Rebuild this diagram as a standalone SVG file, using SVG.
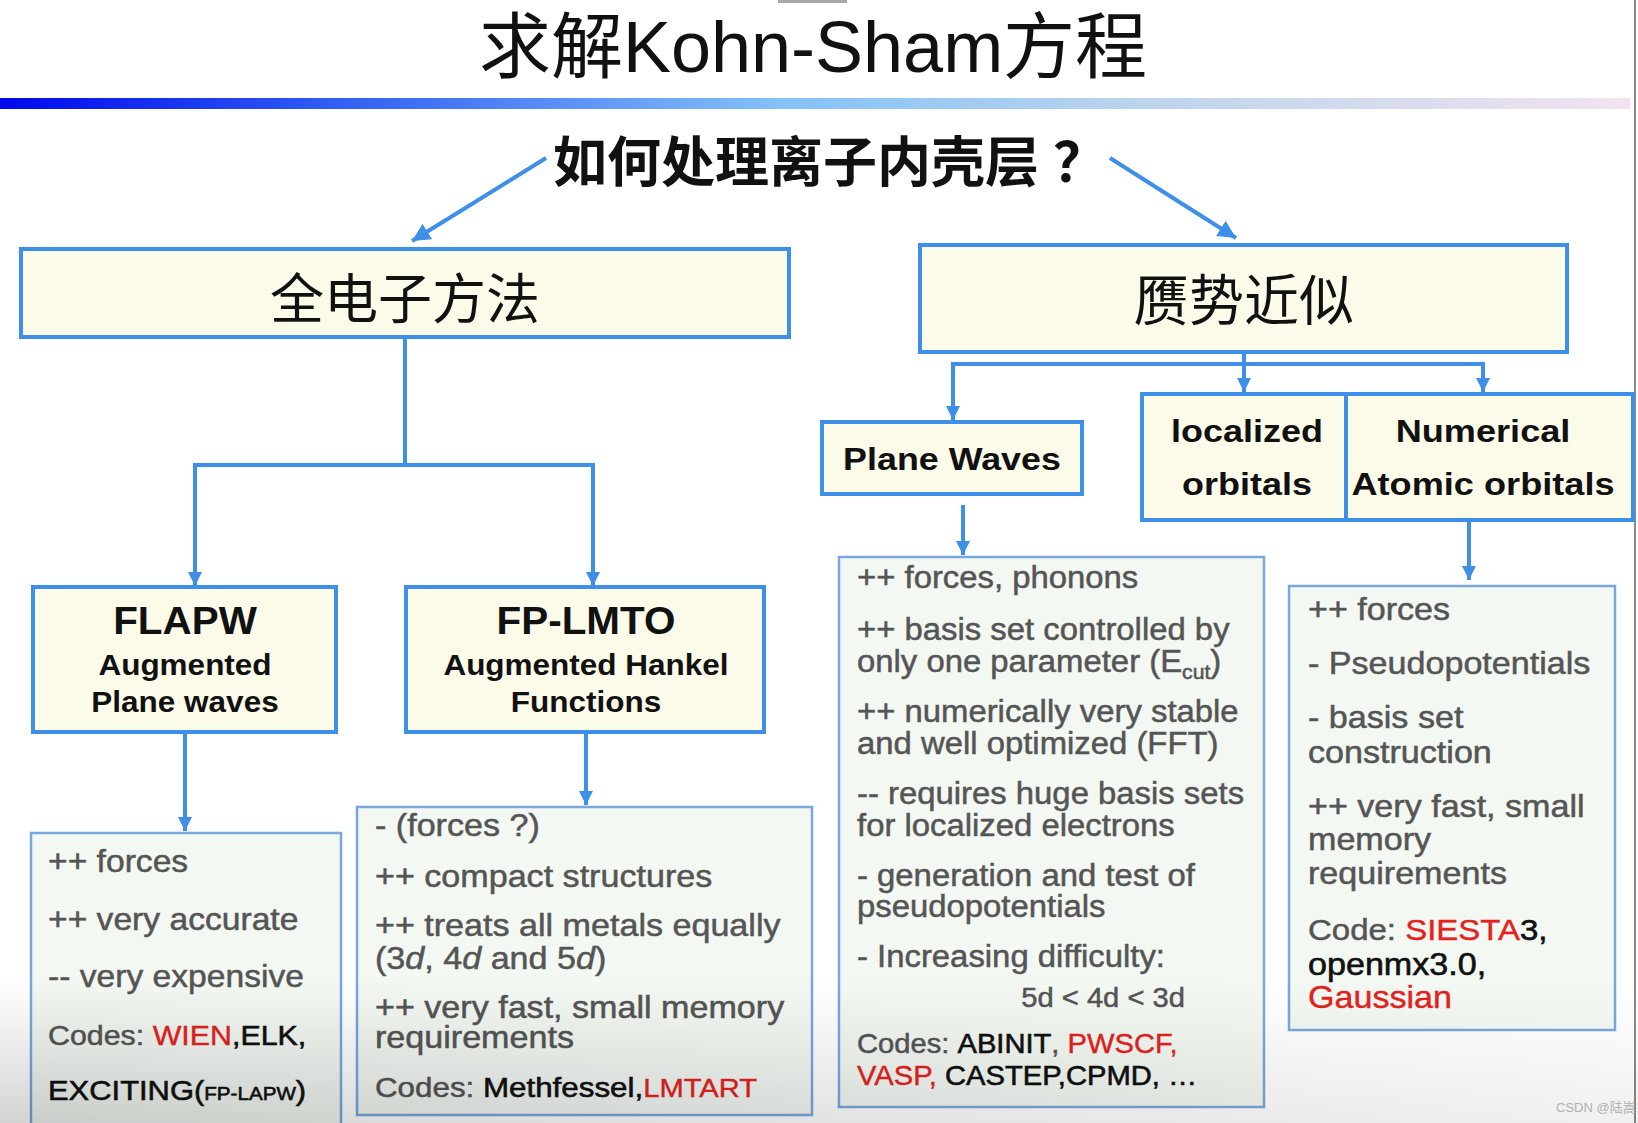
<svg xmlns="http://www.w3.org/2000/svg" width="1638" height="1123" viewBox="0 0 1638 1123">
<defs>
<linearGradient id="bar" x1="0" y1="0" x2="1" y2="0">
<stop offset="0" stop-color="#0008ee"/>
<stop offset="0.2" stop-color="#2f5cf2"/>
<stop offset="0.48" stop-color="#84c2f8"/>
<stop offset="0.7" stop-color="#bcd4ec"/>
<stop offset="0.86" stop-color="#d8dcee"/>
<stop offset="1" stop-color="#f4e2f2"/>
</linearGradient>
<linearGradient id="shade" x1="0" y1="0" x2="0" y2="1">
<stop offset="0" stop-color="#000" stop-opacity="0"/>
<stop offset="1" stop-color="#000" stop-opacity="0.17"/>
</linearGradient>
<linearGradient id="fade" x1="0" y1="0" x2="1" y2="0">
<stop offset="0" stop-color="#fff"/>
<stop offset="1" stop-color="#555"/>
</linearGradient>
<mask id="shadeMask" maskUnits="userSpaceOnUse" x="0" y="980" width="1638" height="143">
<rect x="0" y="980" width="1638" height="143" fill="url(#fade)"/>
</mask>
<marker id="ah" markerUnits="userSpaceOnUse" markerWidth="14" markerHeight="14" refX="14" refY="7" orient="auto">
<path d="M0,0 L14,7 L0,14 z" fill="#3d8fe8"/>
</marker>
<marker id="ahb" markerUnits="userSpaceOnUse" markerWidth="18" markerHeight="18" refX="18" refY="9" orient="auto">
<path d="M0,0 L18,9 L0,18 z" fill="#3d8fe8"/>
</marker>
<style>
.node{fill:#fcfbe9;stroke:#3d8fe8;stroke-width:4}
.det{fill:#f3f8f3;stroke:#7aa8dc;stroke-width:2.5}
.conn{fill:none;stroke:#3d8fe8;stroke-width:4}
.lbl{font-family:'Liberation Sans',Arial,sans-serif;fill:#111;font-weight:bold}
.cjk{font-family:'Noto Sans CJK SC',sans-serif;fill:#111}
.tx{font-family:'Liberation Sans',Arial,sans-serif;fill:#555;stroke:#555;stroke-width:0.5;font-size:31px}
.blk{fill:#111;stroke:#111;stroke-width:0.6}
.red{fill:#e3231e;stroke:#e3231e;stroke-width:0.4}
</style>
</defs>

<rect x="0" y="0" width="1638" height="1123" fill="#ffffff"/>
<rect x="778" y="0" width="69" height="3" fill="#a8a8a8"/>
<line x1="1635" y1="0" x2="1635" y2="1123" stroke="#8a8a8a" stroke-width="2"/>

<g id="title">
<text x="813" y="72" font-size="72" text-anchor="middle" font-family="'Liberation Sans','Noto Sans CJK SC',sans-serif" fill="#111">求解Kohn-Sham方程</text>
<rect x="0" y="98" width="1630" height="11" fill="url(#bar)"/>
</g>

<g id="question">
<text class="cjk" x="830" y="182" font-size="54" font-weight="bold" text-anchor="middle">如何处理离子内壳层<tspan dx="14">？</tspan></text>
</g>

<g id="all-electron">
<rect class="node" x="21" y="249" width="768" height="88"/>
<text class="cjk" x="405" y="319" font-size="54" text-anchor="middle">全电子方法</text>
</g>

<g id="pseudopotential">
<rect class="node" x="920" y="245" width="647" height="107"/>
<text class="cjk" x="1244" y="320" font-size="55" text-anchor="middle">赝势近似</text>
</g>

<g id="flapw">
<rect class="node" x="33" y="587" width="303" height="145"/>
<g transform="translate(185 0) scale(1.05 1)">
<text class="lbl" x="0" y="634" font-size="38.5" text-anchor="middle">FLAPW</text>
<text class="lbl" x="0" y="675" font-size="30" text-anchor="middle">Augmented</text>
<text class="lbl" x="0" y="712" font-size="30" text-anchor="middle">Plane waves</text>
</g>
</g>

<g id="fplmto">
<rect class="node" x="406" y="587" width="358" height="145"/>
<g transform="translate(586 0) scale(1.05 1)">
<text class="lbl" x="0" y="634" font-size="38.5" text-anchor="middle">FP-LMTO</text>
<text class="lbl" x="0" y="675" font-size="30" text-anchor="middle">Augmented Hankel</text>
<text class="lbl" x="0" y="712" font-size="30" text-anchor="middle">Functions</text>
</g>
</g>

<g id="planewaves">
<rect class="node" x="822" y="422" width="260" height="72"/>
<g transform="translate(952 0) scale(1.12 1)">
<text class="lbl" x="0" y="470" font-size="32" text-anchor="middle">Plane Waves</text>
</g>
</g>

<g id="localized">
<rect class="node" x="1142" y="394" width="204" height="126"/>
<g transform="translate(1247 0) scale(1.125 1)">
<text class="lbl" x="0" y="442" font-size="32" text-anchor="middle">localized</text>
<text class="lbl" x="0" y="495" font-size="32" text-anchor="middle">orbitals</text>
</g>
</g>

<g id="nao">
<rect class="node" x="1346" y="394" width="287" height="126"/>
<g transform="translate(1483 0) scale(1.13 1)">
<text class="lbl" x="0" y="442" font-size="32" text-anchor="middle">Numerical</text>
<text class="lbl" x="0" y="495" font-size="32" text-anchor="middle">Atomic orbitals</text>
</g>
</g>

<g id="flapw-detail">
<rect class="det" x="31" y="833" width="310" height="292"/>
<g class="tx" transform="translate(48 0) scale(1.085 1)">
<text x="0" y="872">++ forces</text>
<text x="0" y="930">++ very accurate</text>
<text x="0" y="987">-- very expensive</text>
<text x="0" y="1045" font-size="28">Codes: <tspan class="red">WIEN</tspan><tspan class="blk">,ELK,</tspan></text>
<text x="0" y="1100" font-size="28.5" class="blk">EXCITING(<tspan font-size="19">FP-LAPW</tspan>)</text>
</g>
</g>

<g id="fplmto-detail">
<rect class="det" x="357" y="807" width="455" height="308"/>
<g class="tx" transform="translate(375 0) scale(1.1 1)" font-size="30.3">
<text x="0" y="836">- (forces ?)</text>
<text x="0" y="887">++ compact structures</text>
<text x="0" y="936">++ treats all metals equally</text>
<text x="0" y="969">(3<tspan font-style="italic">d</tspan>, 4<tspan font-style="italic">d</tspan> and 5<tspan font-style="italic">d</tspan>)</text>
<text x="0" y="1018">++ very fast, small memory</text>
<text x="0" y="1048">requirements</text>
<text x="0" y="1097" font-size="28.5">Codes: <tspan class="blk">Methfessel,</tspan><tspan class="red" font-size="26.5">LMTART</tspan></text>
</g>
</g>

<g id="planewaves-detail">
<rect class="det" x="839" y="557" width="425" height="550"/>
<g class="tx" transform="translate(857 0) scale(1.06 1)" font-size="29">
<text x="0" y="588">++ forces, phonons</text>
<text x="0" y="640">++ basis set controlled by</text>
<text x="0" y="672">only one parameter (E<tspan font-size="20" dy="7">cut</tspan><tspan dy="-7">)</tspan></text>
<text x="0" y="722">++ numerically very stable</text>
<text x="0" y="754">and well optimized (FFT)</text>
<text x="0" y="804">-- requires huge basis sets</text>
<text x="0" y="836">for localized electrons</text>
<text x="0" y="886">- generation and test of</text>
<text x="0" y="917">pseudopotentials</text>
<text x="0" y="967">- Increasing difficulty:</text>
<text x="155" y="1007" font-size="27.5">5d &lt; 4d &lt; 3d</text>
<text x="0" y="1053" font-size="27.5">Codes: <tspan class="blk">ABINIT</tspan>, <tspan class="red">PWSCF,</tspan></text>
<text x="0" y="1085" font-size="27.5"><tspan class="red">VASP,</tspan> <tspan class="blk">CASTEP,CPMD, …</tspan></text>
</g>
</g>

<g id="nao-detail">
<rect class="det" x="1289" y="586" width="326" height="444"/>
<g class="tx" transform="translate(1308 0) scale(1.1 1)">
<text x="0" y="620">++ forces</text>
<text x="0" y="674">- Pseudopotentials</text>
<text x="0" y="728">- basis set</text>
<text x="0" y="763">construction</text>
<text x="0" y="817">++ very fast, small</text>
<text x="0" y="850">memory</text>
<text x="0" y="884">requirements</text>
<text x="0" y="940" font-size="30">Code: <tspan class="red">SIESTA</tspan><tspan class="blk">3,</tspan></text>
<text x="0" y="975" class="blk">openmx3.0,</text>
<text x="0" y="1008" class="red">Gaussian</text>
</g>
</g>

<g id="connectors">
<path class="conn" d="M546,158 L412,241" stroke-width="5" marker-end="url(#ahb)"/>
<path class="conn" d="M1110,158 L1236,238" stroke-width="5" marker-end="url(#ahb)"/>
<path class="conn" d="M405,338 V465 H195 V586" marker-end="url(#ah)"/>
<path class="conn" d="M405,465 H593 V586" marker-end="url(#ah)"/>
<path class="conn" d="M1244,353 V364 H953 V420" marker-end="url(#ah)"/>
<path class="conn" d="M1244,364 V392" marker-end="url(#ah)"/>
<path class="conn" d="M1244,364 H1483 V392" marker-end="url(#ah)"/>
<path class="conn" d="M185,733 V831" marker-end="url(#ah)"/>
<path class="conn" d="M586,733 V805" marker-end="url(#ah)"/>
<path class="conn" d="M963,505 V555" marker-end="url(#ah)"/>
<path class="conn" d="M1469,521 V580" marker-end="url(#ah)"/>
</g>

<rect x="0" y="980" width="1638" height="143" fill="url(#shade)" mask="url(#shadeMask)"/>
<text x="1556" y="1112" font-size="13" font-family="'Liberation Sans','Noto Sans CJK SC',sans-serif" fill="#b0b0b0">CSDN @陆嵩</text>
</svg>
